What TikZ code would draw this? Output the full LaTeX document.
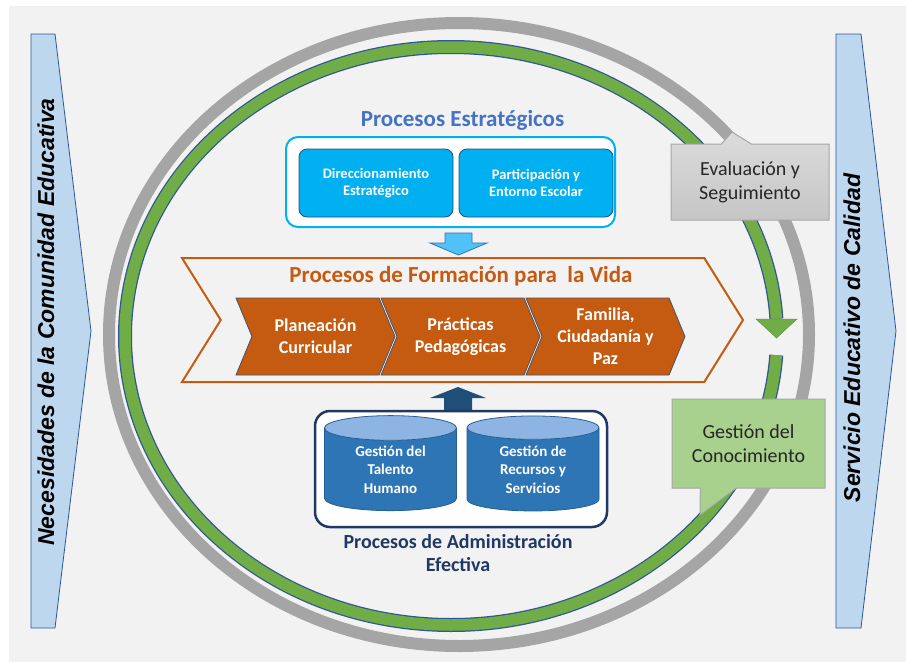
\documentclass[tikz,border=0pt]{standalone}
\usepackage{fontspec}
\setmainfont{Carlito}
\newfontfamily\ladofont{Liberation Sans}
\usetikzlibrary{shapes.geometric,shapes.symbols,shapes.callouts}

\definecolor{fondo}{HTML}{F2F2F2}
\definecolor{azullado}{HTML}{BDD7EE}
\definecolor{bordelado}{HTML}{2F5597}
\definecolor{grisanillo}{HTML}{A5A5A5}
\definecolor{verdeanillo}{HTML}{70AD47}
\definecolor{bordeanillo}{HTML}{2F5597}
\definecolor{celeste}{HTML}{00B0F0}
\definecolor{bordeceleste}{HTML}{1F4E79}
\definecolor{tituloazul}{HTML}{4472C4}
\definecolor{flechaceleste}{HTML}{4FC3F7}
\definecolor{naranja}{HTML}{C55A11}
\definecolor{bordechevron}{HTML}{44546A}
\definecolor{marino}{HTML}{203864}
\definecolor{cuerpo}{HTML}{2E75B6}
\definecolor{tapa}{HTML}{8EB4E3}
\definecolor{flechamarino}{HTML}{1F4E79}
\definecolor{verdenota}{HTML}{A9D18E}
\definecolor{bordenota}{HTML}{A6A6A6}
\definecolor{textonota}{HTML}{262626}

\tikzset{
  titulo/.style={font=\fontsize{23}{27}\selectfont\bfseries, align=center},
  lateral/.style={fill=azullado, draw=bordelado, line width=0.8pt},
  textolateral/.style={rotate=90, font=\ladofont\fontsize{23}{27}\selectfont\bfseries\itshape},
  cajaazul/.style={rectangle, rounded corners=8pt, draw=bordeceleste, line width=0.8pt,
    fill=celeste, text=white, font=\fontsize{14.5}{17.5}\selectfont\bfseries, align=center,
    minimum width=154pt, minimum height=68pt, inner sep=2pt},
  chevron/.style={signal, signal from=west, signal to=east, signal pointer angle=135,
    draw=bordechevron, line width=0.8pt, fill=naranja, text=white,
    font=\fontsize{18}{22}\selectfont\bfseries, align=center,
    minimum width=159pt, minimum height=77pt, inner sep=0pt},
  cilindro/.style={cylinder, shape border rotate=90, aspect=0.35, draw=cuerpo!80!black,
    line width=0.8pt, cylinder uses custom fill, cylinder body fill=cuerpo,
    cylinder end fill=tapa, text=white, font=\fontsize{15}{18.3}\selectfont\bfseries,
    align=center, minimum width=132pt, minimum height=95pt, inner sep=0pt},
  nota/.style={rectangle callout, draw=bordenota, line width=1pt, text=textonota,
    font=\fontsize{20}{24}\selectfont, align=center, inner sep=0pt}
}

\begin{document}
\begin{tikzpicture}[x=1pt, y=-1pt]
  \useasboundingbox (0,0) rectangle (906,662);
  \fill[white] (0,0) rectangle (906,662);
  \fill[fondo] (9,6) rectangle (906,662);

  % flechas laterales
  \draw[lateral] (31,34) -- (55,34) -- (91,331) -- (55,628) -- (31,628) -- cycle;
  \draw[lateral] (836,34) -- (861,34) -- (896,331) -- (861,628) -- (836,628) -- cycle;
  \node[textolateral] (necesidades) at (46,322) {Necesidades de la Comunidad Educativa};
  \node[textolateral] (servicio) at (852,338) {Servicio Educativo de Calidad};

  % anillos
  \draw[line width=12pt, grisanillo] (459,334.5) ellipse[x radius=350, y radius=311.5];
  \draw[line width=14pt, bordeanillo] ([shift={(3.8:326 and 289)}]451,336)
    arc[start angle=3.8, end angle=356.6, x radius=326, y radius=289];
  \draw[line width=11.5pt, verdeanillo] ([shift={(3.8:326 and 289)}]451,336)
    arc[start angle=3.8, end angle=356.6, x radius=326, y radius=289];
  \fill[verdeanillo, draw=verdeanillo!80!black] (756,319) -- (797,319) -- (776.5,338) -- cycle;

  % procesos estrategicos
  \node[titulo, text=tituloazul] (tituloest) at (462.5,120) {Procesos Estratégicos};
  \node[draw=celeste, line width=2pt, rounded corners=12pt, fill=white,
    minimum width=329pt, minimum height=90pt] (estrategico) at (450.5,182) {};
  \foreach \x/\txt [count=\n] in {376/{Direccionamiento\\Estratégico}, 536/{Participación y\\Entorno Escolar}} {
    \node[cajaazul] (est\n) at (\x,183) {\txt};
  }
  \draw[fill=flechaceleste, draw=cuerpo, line width=0.8pt] (445,233) -- (472,233) -- (472,243)
    -- (487,243) -- (458.5,255) -- (430,243) -- (445,243) -- cycle;

  % procesos de formacion
  \node[signal, signal from=west, signal to=east, signal pointer angle=116, draw=naranja,
    line width=2pt, fill=fondo, minimum width=561pt, minimum height=124pt] (formacion) at (462.5,320) {};
  \node[titulo, text=naranja] (tituloform) at (461,276) {Procesos de Formación para~ la Vida};
  \foreach \x/\txt [count=\n] in {315.5/{Planeación\\Curricular}, 460.5/{Prácticas\\Pedagógicas}, 605.5/{Familia,\\Ciudadanía y\\Paz}} {
    \node[chevron] (paso\n) at (\x,336.5) {\txt};
  }

  % procesos de administracion
  \draw[fill=flechamarino, draw=none] (444,410) -- (472,410) -- (472,398) -- (486,398)
    -- (458,387) -- (430,398) -- (444,398) -- cycle;
  \node[draw=marino, line width=2.5pt, rounded corners=15pt, fill=white,
    minimum width=292pt, minimum height=116pt] (admin) at (461,469) {};
  \foreach \x/\txt [count=\n] in {390.5/{Gestión del\\Talento\\Humano}, 533/{Gestión de\\Recursos y\\Servicios}} {
    \node[cilindro] (cil\n) at (\x,469.5) {\txt};
  }
  \node[font=\fontsize{20}{23}\selectfont\bfseries, text=marino, align=center] (tituloadm)
    at (458,553) {Procesos de Administración\\Efectiva};

  % notas
  \node[nota, top color=gray!28, bottom color=gray!45, minimum width=158pt, minimum height=76pt,
    callout absolute pointer={(732,132)}, callout pointer width=30pt] (evaluacion)
    at (750,182) {Evaluación y\\Seguimiento};
  \node[nota, fill=verdenota, minimum width=153pt, minimum height=89pt,
    callout absolute pointer={(700,515)}, callout pointer width=36pt] (conocimiento)
    at (748.5,443.5) {Gestión del\\Conocimiento};
\end{tikzpicture}
\end{document}
